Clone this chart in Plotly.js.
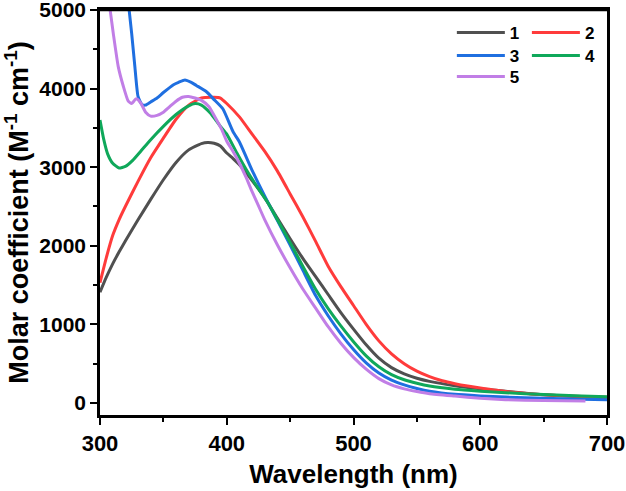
<!DOCTYPE html>
<html>
<head>
<meta charset="utf-8">
<script src="https://cdn.plot.ly/plotly-3.0.1.min.js"></script>
<style>
html,body{margin:0;padding:0;background:#fff;}
#chart{width:626px;height:491px;}
</style>
</head>
<body>
<div id="chart"></div>
<script>
// Series names
const names = ["1", "2", "3", "4", "5"];

// Series 1 (gray)
const wl1 = [300,305,310,315,320,330,340,350,360,370,380,385,390,395,400,405,410,420,430,440,450,460,470,480,490,500,510,520,530,540,550,560,580,600,620,640,660,680,700];
const eps1 = [1410,1600,1770,1920,2060,2330,2590,2840,3060,3220,3300,3315,3305,3270,3180,3110,3030,2830,2610,2350,2090,1840,1610,1380,1150,940,740,570,450,370,315,275,220,180,148,118,95,75,62];

// Series 2 (red)
const wl2 = [300,305,310,315,320,330,340,350,360,370,380,390,395,400,410,420,430,440,450,460,470,480,490,500,510,520,530,540,550,560,570,580,590,600,620,640,660,680,700];
const eps2 = [1530,1850,2130,2330,2500,2820,3120,3370,3610,3790,3880,3890,3880,3810,3640,3420,3200,2950,2660,2370,2060,1740,1480,1240,1000,790,625,500,405,335,282,245,215,190,145,115,95,82,72];

// Series 3 (blue)
const wl3 = [323,325,327.5,330,333,336,340,345,350,358,362,367,372,376,384,390,397,405,410,420,430,440,450,460,470,480,490,500,510,520,530,540,550,560,580,600,620,650,680,700];
const eps3 = [5000,4700,4280,3900,3800,3790,3830,3880,3950,4050,4080,4110,4080,4040,3960,3860,3740,3450,3320,2960,2630,2320,2010,1690,1370,1110,880,680,510,380,290,230,185,150,110,90,75,60,48,40];

// Series 4 (green)
const wl4 = [300,303,306,310,315,320,326,332,340,350,360,370,375,380,387,395,400,408,415,424,432,440,450,460,470,480,490,500,510,520,530,540,550,560,580,600,620,650,680,700];
const eps4 = [3600,3350,3170,3050,2990,3010,3090,3200,3350,3520,3670,3780,3810,3790,3690,3520,3420,3180,2980,2750,2560,2330,2040,1740,1450,1200,980,780,600,460,360,295,250,215,175,150,130,108,90,78];

// Series 5 (purple)
const wl5 = [308,310.5,314.4,318.4,322.3,325,328.5,332,336,340,345,350,355,360,365,370,375,380,386,392,396,400,405,410,415,420,425,430,440,450,460,470,480,490,500,510,520,530,540,550,560,580,600,620,650,683];
const eps5 = [5000,4700,4280,4030,3840,3810,3870,3820,3700,3650,3660,3700,3770,3840,3890,3900,3880,3850,3770,3600,3480,3330,3200,3050,2880,2690,2510,2330,2010,1720,1450,1210,970,760,580,430,310,230,180,145,118,88,60,42,30,25];

const colors = ["#505050", "#ff3b3b", "#1f6fe0", "#0fa85a", "#c17ee6"];

// Tick settings
const xTicks = [300, 400, 500, 600, 700];
const yTicks = [0, 1000, 2000, 3000, 4000, 5000];

const xs = [wl1, wl2, wl3, wl4, wl5];
const ys = [eps1, eps2, eps3, eps4, eps5];
const legendIds = ["legend", "legend2", "legend3", "legend4", "legend5"];

const traces = names.map((n, i) => ({
  x: xs[i], y: ys[i], name: n, type: "scatter", mode: "lines",
  line: {color: colors[i], width: 3, shape: "spline", smoothing: 0.5},
  legend: legendIds[i]
}));

const fontFam = "Arial, 'Liberation Sans', sans-serif";
function mkLegend(x, y) {
  return {
    font: {family: fontFam, size: 17, color: "#000", weight: "bold"},
    bgcolor: "rgba(0,0,0,0)", borderwidth: 0,
    itemwidth: 48, tracegroupgap: 0,
    xanchor: "left", yanchor: "top", x: x, y: y
  };
}
const colL = 0.694, colR = 0.842;
const row1 = 0.988, row2 = 0.931, row3 = 0.879;

const layout = {
  width: 626, height: 491,
  margin: {l: 100, r: 19, t: 10, b: 76},
  paper_bgcolor: "#fff", plot_bgcolor: "#fff",
  showlegend: true,
  legend: mkLegend(colL, row1),
  legend2: mkLegend(colR, row1),
  legend3: mkLegend(colL, row2),
  legend4: mkLegend(colR, row2),
  legend5: mkLegend(colL, row3),
  shapes: [
    {type: "line", xref: "paper", yref: "paper", x0: 0, x1: 1, y0: 1, y1: 1,
     line: {color: "#000", width: 2.5}, layer: "above"}
  ],
  xaxis: {
    range: [300, 700], tickvals: xTicks, ticktext: xTicks.map(String),
    ticks: "outside", ticklen: 7, tickwidth: 2, tickcolor: "#000",
    minor: {dtick: 50, ticks: "outside", ticklen: 4, tickwidth: 2, tickcolor: "#000"},
    showline: true, linewidth: 2.5, linecolor: "#000", mirror: true,
    showgrid: false, zeroline: false, ticklabeloverflow: "allow",
    tickfont: {family: fontFam, size: 22, color: "#000", weight: "bold"},
    title: {text: "Wavelength (nm)", font: {family: fontFam, size: 26, color: "#000", weight: "bold"}, standoff: 10}
  },
  yaxis: {
    range: [-153, 5000], tickvals: yTicks, ticktext: yTicks.map(String),
    ticks: "outside", ticklen: 7, tickwidth: 2, tickcolor: "#000",
    minor: {dtick: 500, ticks: "outside", ticklen: 4, tickwidth: 2, tickcolor: "#000"},
    showline: true, linewidth: 2.5, linecolor: "#000", mirror: true,
    showgrid: false, zeroline: false, ticklabeloverflow: "allow",
    tickfont: {family: fontFam, size: 21, color: "#000", weight: "bold"},
    title: {text: "Molar coefficient (M<sup>-1</sup> cm<sup>-1</sup>)", font: {family: fontFam, size: 27, color: "#000", weight: "bold"}, standoff: 4}
  }
};

Plotly.newPlot("chart", traces, layout, {displayModeBar: false});
</script>
</body>
</html>
